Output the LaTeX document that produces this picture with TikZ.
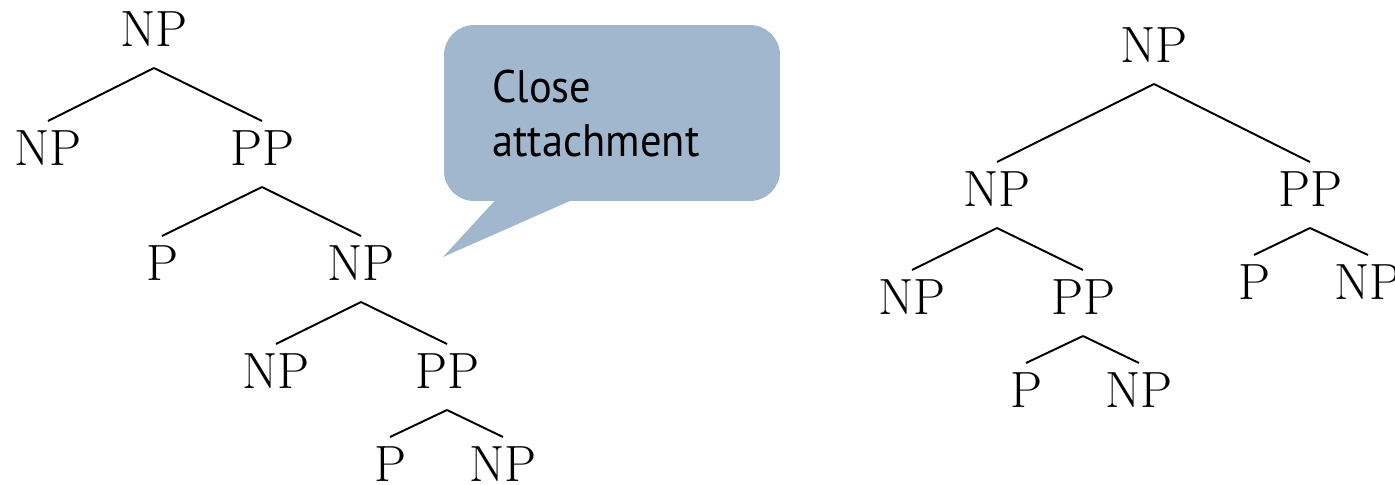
\documentclass[tikz,border=0pt]{standalone}
\usepackage{fontspec}
\newfontfamily\calloutfont{PT Sans}[FakeStretch=0.93]
\usetikzlibrary{calc}
\definecolor{bubblefill}{RGB}{161,183,205}
\begin{document}
\begin{tikzpicture}[x=0.02cm,y=-0.02cm,
  cat/.style={inner sep=0pt,anchor=base,font=\fontsize{29}{35}\selectfont},
  branch/.style={line width=1.1pt},
]
\useasboundingbox (0,0) rectangle (1395,484);
% branch from the parent's label down to the child's label
\newcommand\branchline[2]{\draw[branch] ($(#1.base)+(0,22)$) -- ($(#2.base)+(0,-44)$);}

% left tree: low attachment
\node[cat] (l1)  at (154,46)  {NP};
\node[cat] (l2a) at (48,165)  {NP};
\node[cat] (l2b) at (262,165) {PP};
\node[cat] (l3a) at (162,280) {P};
\node[cat] (l3b) at (361,280) {NP};
\node[cat] (l4a) at (276,388) {NP};
\node[cat] (l4b) at (447,388) {PP};
\node[cat] (l5a) at (390,481) {P};
\node[cat] (l5b) at (503,481) {NP};
\branchline{l1}{l2a}
\branchline{l1}{l2b}
\branchline{l2b}{l3a}
\branchline{l2b}{l3b}
\branchline{l3b}{l4a}
\branchline{l3b}{l4b}
\branchline{l4b}{l5a}
\branchline{l4b}{l5b}

% speech bubble
\node[fill=bubblefill, rounded corners=0.6cm, minimum width=6.72cm,
      minimum height=3.52cm, inner sep=0pt] (bubble) at (612,113) {};
\coordinate (tip) at (443,257);
\fill[bubblefill] ($(bubble.south west)+(56,-6)$) -- (tip)
  -- ($(bubble.south west)+(139,-6)$) -- cycle;
\node[anchor=base west, inner sep=0pt,
      font=\calloutfont\fontsize{26}{31.3}\selectfont] (label) at (492,102)
  {\begin{tabular}[t]{@{}l@{}}Close\\attachment\end{tabular}};

% right tree: high attachment
\node[cat] (r1)  at (1154,62)  {NP};
\node[cat] (r2a) at (997,206)  {NP};
\node[cat] (r2b) at (1310,206) {PP};
\node[cat] (r3a) at (912,314)  {NP};
\node[cat] (r3b) at (1083,314) {PP};
\node[cat] (r3c) at (1254,299) {P};
\node[cat] (r3d) at (1368,299) {NP};
\node[cat] (r4a) at (1026,407) {P};
\node[cat] (r4b) at (1139,407) {NP};
\branchline{r1}{r2a}
\branchline{r1}{r2b}
\branchline{r2a}{r3a}
\branchline{r2a}{r3b}
\branchline{r2b}{r3c}
\branchline{r2b}{r3d}
\branchline{r3b}{r4a}
\branchline{r3b}{r4b}
\end{tikzpicture}
\end{document}
